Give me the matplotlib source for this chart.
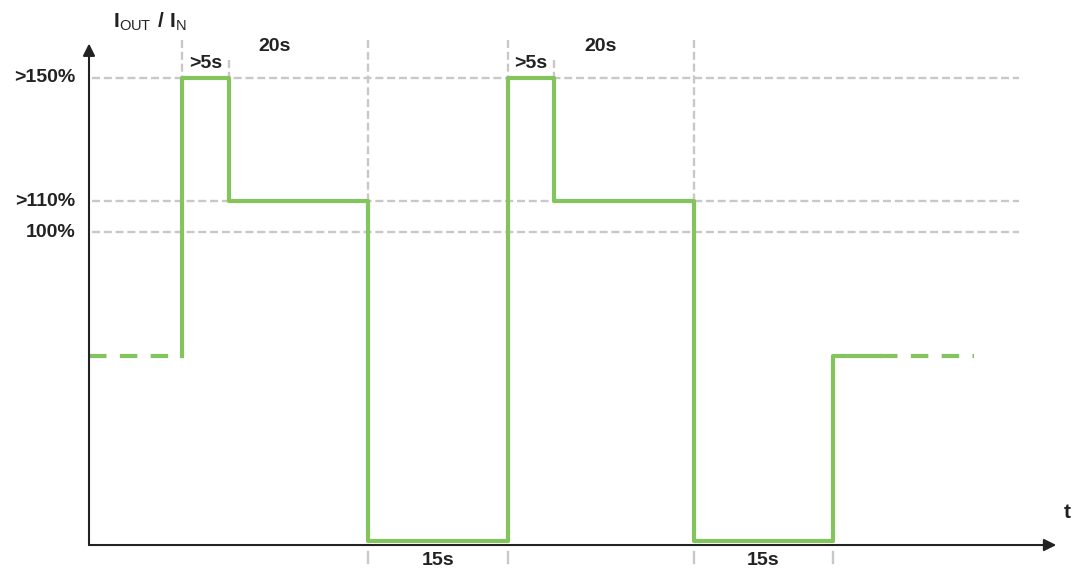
import matplotlib.pyplot as plt

plt.rcParams["font.family"] = ["Liberation Sans", "DejaVu Sans"]
plt.rcParams["mathtext.fontset"] = "custom"
plt.rcParams["mathtext.rm"] = "Liberation Sans"
plt.rcParams["mathtext.bf"] = "Liberation Sans:bold"

# step signal: time (s) and output current level (% of nominal)
step_t = [10, 10, 15, 30, 45, 50, 65, 80, 85]
step_level = [60, 150, 110, 0, 150, 110, 0, 60, 60]
start_t = [0, 10]
end_t = [85, 95.2]
base_level = 60

# reference levels on the y axis
ref_levels = [150, 110, 100]
ref_labels = [">150%", ">110%", "100%"]

# duration marks
mark_t = [10, 15, 30, 45, 50, 65, 80]
top_labels = [">5s", "20s", ">5s", "20s"]
top_label_t = [12.5, 20, 47.5, 55]
bottom_labels = ["15s", "15s"]
bottom_label_t = [37.5, 72.5]

green = "#84c45c"
grey = "#c8c8c8"

fig = plt.figure(figsize=(10.83, 5.74), dpi=100)
ax = fig.add_axes([0, 0, 1, 1])
ax.set_xlim(-9.57, 106.88)
ax.set_ylim(-10.68, 175.1)
ax.axis("off")

# grey dashed guides
for lv in ref_levels:
    ax.plot([0.3, 100], [lv, lv], color=grey, lw=1.7, ls=(0, (3.4, 1.6)), zorder=1)

top_ends = {10: 162, 15: 155.7, 30: 162, 45: 162, 50: 155.7, 65: 162, 80: 60}
for t in mark_t:
    if t in (10, 15, 50):
        ax.plot([t, t], [top_ends[t], 150], color=grey, lw=1.7,
                ls=(0, (3.4, 1.6)), zorder=1)
    else:
        ax.plot([t, t], [top_ends[t], 0], color=grey, lw=1.7,
                ls=(0, (3.4, 1.6)), zorder=1)
        ax.plot([t, t], [-3.6, -7.1], color=grey, lw=1.7, zorder=1)

# signal
ax.step(step_t, step_level, where="post", color=green, lw=3.0, zorder=3)
ax.plot(start_t, [base_level, base_level], color=green, lw=3.0,
        ls=(0, (4.2, 3.2)), zorder=3)
ax.plot(end_t, [base_level, base_level], color=green, lw=3.0,
        ls=(0, (4.2, 3.2)), zorder=3)

# axes with arrows
ax.annotate("", xy=(0, 161), xytext=(0, -1.3),
            arrowprops=dict(arrowstyle="-|>", color="#222222", lw=1.5,
                            mutation_scale=18, shrinkA=0, shrinkB=0), zorder=4)
ax.annotate("", xy=(104, -1.3), xytext=(0, -1.3),
            arrowprops=dict(arrowstyle="-|>", color="#222222", lw=1.5,
                            mutation_scale=18, shrinkA=0, shrinkB=0), zorder=4)

# labels
for lv, lab in zip(ref_levels, ref_labels):
    ax.text(-1.5, lv, lab, ha="right", va="center", fontsize=14,
            fontweight="bold", color="#222222")
for t, lab in zip(top_label_t, top_labels):
    y = 154.4 if lab == ">5s" else 160
    ax.text(t, y, lab, ha="center", va="center", fontsize=14,
            fontweight="bold", color="#222222")
for t, lab in zip(bottom_label_t, bottom_labels):
    ax.text(t, -6.3, lab, ha="center", va="center", fontsize=14,
            fontweight="bold", color="#222222")

ax.text(105.2, 9.1, "t", ha="center", va="center", fontsize=15,
        fontweight="bold", color="#222222")
ax.text(2.6, 166.3, r"$\mathbf{I}_{\mathrm{OUT}}\mathbf{\ /\ I}_{\mathrm{N}}$",
        ha="left", va="baseline", fontsize=15, color="#222222")

fig.savefig("out.png", dpi=100)
